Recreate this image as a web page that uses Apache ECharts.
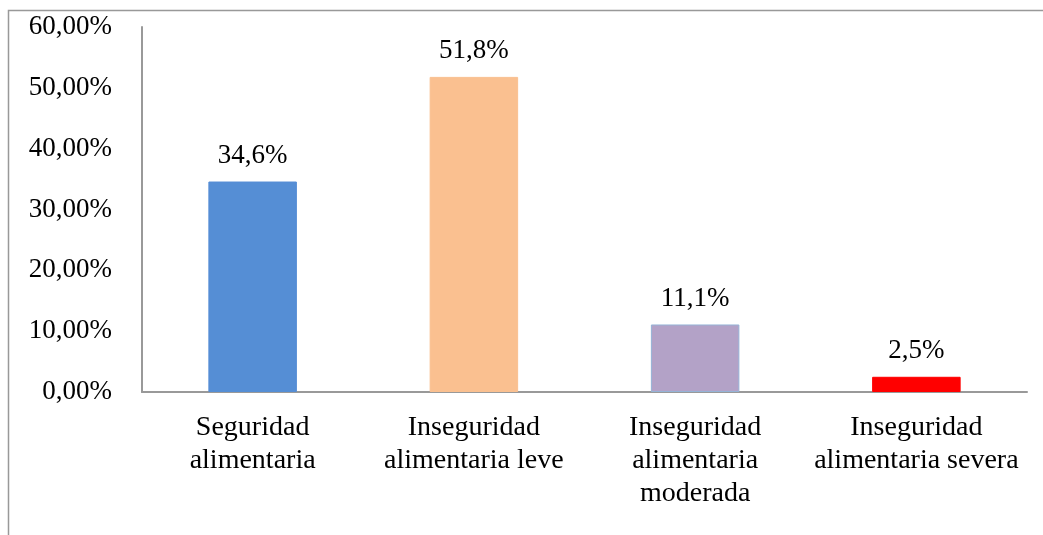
<!DOCTYPE html>
<html>
<head>
<meta charset="utf-8">
<script src="https://cdn.jsdelivr.net/npm/echarts@6/dist/echarts.min.js"></script>
<style>
  html, body { margin: 0; padding: 0; background: #fff; }
  #main { width: 1043px; height: 535px; }
</style>
</head>
<body>
<div id="main"></div>
<script>
// categorías y porcentajes
var categorias = [
  "Seguridad\nalimentaria",
  "Inseguridad\nalimentaria leve",
  "Inseguridad\nalimentaria\nmoderada",
  "Inseguridad\nalimentaria severa"
];
var porcentajes = [34.6, 51.8, 11.1, 2.5];
var colores = ["#558ED5", "#FAC090", "#B3A2C7", "#FF0000"];
var bordes = ["#558ED5", "#FAC090", "#95B3D7", "#FF0000"];
var ticksY = [0, 10, 20, 30, 40, 50, 60];

var fuente = "Liberation Serif";

var myChart = echarts.init(document.getElementById("main"));
myChart.setOption({
  animation: false,
  graphic: [{
    type: "rect",
    shape: { x: 8.5, y: 10.5, width: 1100, height: 600 },
    style: { fill: null, stroke: "#999", lineWidth: 1.5 },
    silent: true
  }],
  grid: { left: 142, right: 16, top: 27, bottom: 143 },
  xAxis: {
    type: "category",
    data: categorias,
    axisLine: { lineStyle: { color: "#999", width: 2 } },
    axisTick: { show: false },
    axisLabel: {
      color: "#000",
      fontFamily: fuente,
      fontSize: 28,
      lineHeight: 33,
      margin: 19,
      interval: 0
    }
  },
  yAxis: {
    type: "value",
    min: ticksY[0],
    max: ticksY[ticksY.length - 1],
    interval: 10,
    axisLine: { show: true, lineStyle: { color: "#999", width: 2 } },
    axisTick: { show: false },
    splitLine: { show: false },
    axisLabel: {
      color: "#000",
      fontFamily: fuente,
      fontSize: 27,
      margin: 30,
      formatter: function (v) { return v.toFixed(2).replace(".", ",") + "%"; }
    }
  },
  series: [{
    type: "bar",
    barWidth: "40%",
    data: porcentajes.map(function (v, i) {
      return {
        value: v,
        itemStyle: { color: colores[i], borderColor: bordes[i], borderWidth: 1 }
      };
    }),
    label: {
      show: true,
      position: "top",
      distance: 12,
      color: "#000",
      fontFamily: fuente,
      fontSize: 27,
      formatter: function (p) { return p.value.toFixed(1).replace(".", ",") + "%"; }
    }
  }]
});
</script>
</body>
</html>
